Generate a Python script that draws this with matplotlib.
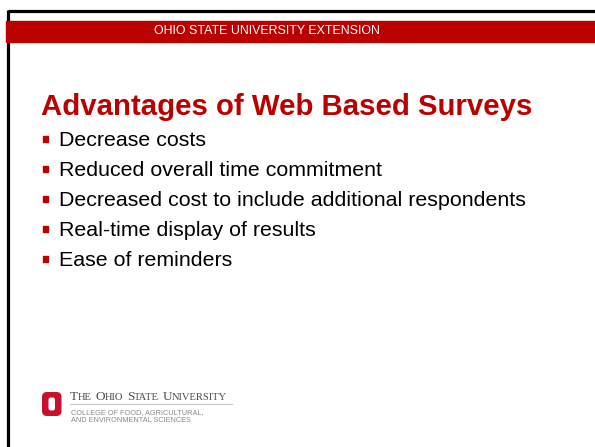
import matplotlib
matplotlib.use("Agg")
import matplotlib.pyplot as plt
from matplotlib.patches import Rectangle, FancyBboxPatch

HEADER = "OHIO STATE UNIVERSITY EXTENSION"
TITLE = "Advantages of Web Based Surveys"
BULLETS = [
    "Decrease costs",
    "Reduced overall time commitment",
    "Decreased cost to include additional respondents",
    "Real-time display of results",
    "Ease of reminders",
]
LOGO_NAME = ["THE", "OHIO", "STATE", "UNIVERSITY"]
LOGO_SUB = ["COLLEGE OF FOOD, AGRICULTURAL,", "AND ENVIRONMENTAL SCIENCES"]

RED = "#BB0000"
W, H = 595, 447

fig = plt.figure(figsize=(W / 100, H / 100), dpi=100)
ax = fig.add_axes([0, 0, 1, 1])
ax.set_xlim(0, W)
ax.set_ylim(H, 0)
ax.axis("off")
renderer = fig.canvas.get_renderer()


def text_width(t):
    bb = t.get_window_extent(renderer)
    return bb.width  # 1 data unit == 1 pixel here


# slide frame
ax.plot([8, W], [10.5, 10.5], color="black", lw=2.3, solid_capstyle="butt")
ax.plot([8.3, 8.3], [9.5, H], color="black", lw=2.3, solid_capstyle="butt")

# header band
ax.add_patch(Rectangle((6, 21), W - 6, 20.5, color=RED, zorder=3))
ax.text(266.5, 31.5, HEADER, color="white", fontsize=8.9, family="Liberation Sans",
        ha="center", va="center", zorder=4)

# title
ax.text(41, 115, TITLE, color=RED, fontsize=21.2, fontweight="bold",
        family="Liberation Sans", ha="left", va="baseline")

# bullets
for i, item in enumerate(BULLETS):
    base = 146 + i * 30
    ax.add_patch(Rectangle((42.5, base - 10), 5.5, 5.5, color=RED))
    ax.text(59, base, item, color="black", fontsize=15.4, family="Liberation Sans",
            ha="left", va="baseline")

# logo block "O"
ax.add_patch(FancyBboxPatch((42, 392), 19.5, 24, boxstyle="round,pad=0,rounding_size=5",
                            color="#C8102E", lw=0))
ax.add_patch(FancyBboxPatch((48.5, 397.5), 6.5, 13, boxstyle="round,pad=0,rounding_size=2.5",
                            color="white", lw=0))

# small caps university name
x = 70
for word in LOGO_NAME:
    t = ax.text(x, 399.5, word[0], color="#4d4d4d", fontsize=9.5, family="Liberation Serif",
                ha="left", va="baseline")
    x += text_width(t)
    t = ax.text(x, 399.5, word[1:], color="#4d4d4d", fontsize=7.6, family="Liberation Serif",
                ha="left", va="baseline")
    x += text_width(t) + 3.5
ax.plot([70, 232], [404, 404], color="#c8c8c8", lw=0.8)
for j, line in enumerate(LOGO_SUB):
    ax.text(71, 413 + j * 8, line, color="#8a8a8a", fontsize=5.3,
            family="Liberation Sans", ha="left", va="center")

fig.savefig("out.png", dpi=100)
